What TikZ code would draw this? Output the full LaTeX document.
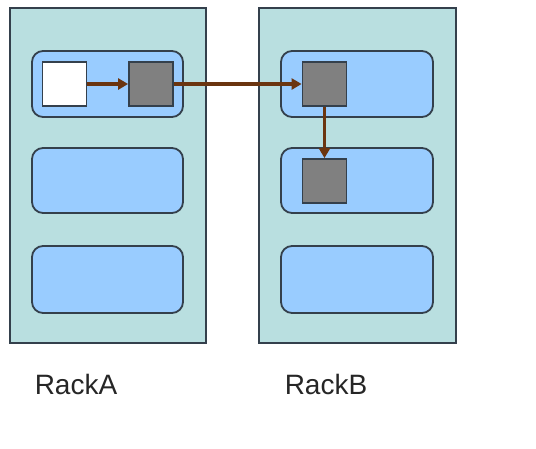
\documentclass[tikz,border=0pt]{standalone}
\usepackage{fontspec}
\setmainfont{Liberation Sans}
\usetikzlibrary{arrows.meta}
\definecolor{rackfill}{HTML}{B9DFE0}
\definecolor{slotfill}{HTML}{99CCFF}
\definecolor{blockgray}{HTML}{808080}
\definecolor{edgecol}{HTML}{34404C}
\definecolor{arrowcol}{HTML}{6B3510}
\begin{document}
\begin{tikzpicture}[x=1pt,y=-1pt,
  rackbox/.style={draw=edgecol, fill=rackfill, line width=1.5pt},
  slotbox/.style={draw=edgecol, fill=slotfill, line width=1.8pt, rounded corners=11pt},
  blockbox/.style={draw=edgecol, line width=1.8pt, minimum width=44pt, minimum height=44pt, inner sep=0pt},
  flow/.style={draw=arrowcol, line width=3.6pt, -{Triangle[length=10pt,width=11pt]}},
  racklabel/.style={anchor=base, font=\fontsize{28}{30}\selectfont, text=black!85}]
\useasboundingbox (0,0) rectangle (536,448);
% racks
\path[rackbox] (10,8) rectangle (206,343);
\path[rackbox] (259,8) rectangle (456,343);
% slots rack A
\path[slotbox] (32,51) rectangle (183,117);
\path[slotbox] (32,148) rectangle (183,213);
\path[slotbox] (32,246) rectangle (183,313);
% slots rack B
\path[slotbox] (281,51) rectangle (433,117);
\path[slotbox] (281,148) rectangle (433,213);
\path[slotbox] (281,246) rectangle (433,313);
% blocks
\node[blockbox, fill=white] (w) at (64.5,84) {};
\node[blockbox, fill=blockgray] (ga) at (151,84) {};
\node[blockbox, fill=blockgray] (gb1) at (324.5,84) {};
\node[blockbox, fill=blockgray] (gb2) at (324.5,181) {};
% arrows
\draw[flow] (w.east) -- (ga.west);
\draw[flow] (ga.east) -- (gb1.west);
\draw[flow] (gb1.south) -- (gb2.north);
% labels
\node[racklabel] (la) at (76,394) {RackA};
\node[racklabel] (lb) at (326,394) {RackB};
\end{tikzpicture}
\end{document}
